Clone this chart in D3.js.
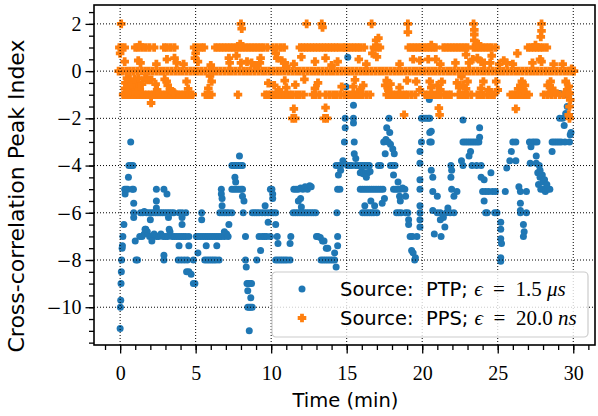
<!DOCTYPE html>
<html>
<head>
<meta charset="utf-8">
<script src="https://cdn.jsdelivr.net/npm/d3@7/dist/d3.min.js"></script>
<style>
  html, body { margin: 0; padding: 0; background: #fff; }
  svg { display: block; }
  .tick-label { font-family: "Liberation Serif", serif; font-size: 20px; fill: #000; }
  .tick-minus { font-family: "DejaVu Serif", serif; font-size: 18px; }
  .x-label { font-family: "DejaVu Sans", sans-serif; font-size: 19.5px; fill: #000; }
  .y-label { font-family: "DejaVu Sans", sans-serif; font-size: 22px; fill: #000; }
  .legend-text { font-family: "DejaVu Sans", sans-serif; font-size: 19.5px; white-space: pre; }
  .math { font-family: "Liberation Serif", serif; font-size: 21px; }
</style>
</head>
<body>
<svg id="chart" width="598" height="416"></svg>
<script>
// axis ticks
const xTicks = [0, 5, 10, 15, 20, 25, 30]
const yTicks = [-10, -8, -6, -4, -2, 0, 2]

// PTP source, [time (min), peak index]
const ptpFirst = [
  [0.00,-10.9],[0.02,-10.0],[0.04,-9.7],[0.06,-9.0],[0.08,-8.5],[0.1,-8.0],[0.13,-7.5],[0.15,-7.4],
  [0.18,-7.0],[0.25,-6.5],[0.3,-5.0],[0.33,-5.2],[0.4,-5.0],[0.5,-5.0],[0.55,-4.5],[0.58,-4.0],
  [0.7,-3.0],[0.72,-4.0],[0.85,-4.0],[0.8,-5.0],[0.88,-5.0],[0.9,-5.6],[0.9,-6.0],[0.9,-6.2],
  [1.0,-7.2],[1.05,-8.0],[1.15,-8.0],
  [1.35,-6.0],[1.5,-6.0],[1.6,-5.95],[1.75,-6.0],[1.9,-6.0],[2.05,-6.0],[2.2,-6.0],[2.35,-6.0],
  [2.5,-6.0],[2.65,-6.0],[2.8,-6.0],[2.95,-6.0],[3.1,-6.0],[3.25,-6.0],[3.4,-6.0],[3.55,-6.0],
  [3.9,-6.0],[4.1,-6.0],[4.35,-6.0],
  [1.3,-7.0],[1.45,-7.0],[1.6,-6.9],[1.7,-6.7],[1.8,-6.8],[1.95,-7.0],[2.1,-7.0],[2.25,-6.9],
  [2.4,-7.0],[2.55,-7.0],[2.7,-6.9],[2.85,-7.0],[3.0,-7.0],[3.15,-7.0],[3.3,-6.8],[3.45,-7.0],
  [3.6,-7.0],[3.75,-7.0],[3.9,-7.0],[4.05,-7.0],[4.2,-7.0],[4.35,-7.0],[4.55,-7.0],
  [1.65,-6.7],[2.0,-6.3],[2.4,-5.8],[2.4,-5.5],[2.4,-5.0],[2.9,-5.0],[3.1,-5.2],[2.1,-7.2],
  [2.9,-7.8],[2.9,-8.0],[3.2,-6.2],[3.25,-6.7],[3.85,-8.0],[4.05,-8.0],[4.25,-8.0],[4.45,-8.0],
  [4.85,-8.0],[3.9,-7.4],[4.1,-6.5],[4.1,-6.2],[4.4,-8.5],[4.55,-8.5],[4.7,-8.6],[4.85,-9.0],
  [4.95,-9.0],[4.55,-7.4],
  [5.05,-7.0],[5.2,-7.0],[5.35,-7.0],[5.5,-7.0],[5.65,-7.0],[5.8,-7.0],[5.95,-7.0],[6.1,-7.0],
  [6.25,-7.0],[6.4,-7.0],[6.55,-7.0],[6.7,-7.0],[6.9,-7.0],[7.05,-6.9],
  [5.15,-7.7],[5.4,-6.3],[5.4,-6.0],[5.7,-7.4],[6.4,-7.4],[5.6,-8.0],[5.75,-8.0],[5.9,-8.0],
  [6.05,-8.0],[6.2,-8.0],[6.35,-8.0],[6.55,-8.0],
  [6.7,-5.0],[6.7,-5.2],[6.75,-5.4],[6.75,-5.7],[6.75,-6.0],[6.6,-6.0],[6.9,-6.0],[7.05,-6.0],
  [7.2,-6.0],[7.4,-6.0],[6.9,-6.8],[7.2,-6.5],[7.15,-7.0],
  [7.4,-4.0],[7.55,-4.0],[7.7,-4.0],[7.85,-4.0],[8.0,-4.0],[8.1,-4.0],[7.6,-4.5],[7.65,-4.7],
  [7.9,-3.6],[7.4,-5.0],[7.55,-5.0],[7.7,-5.0],[7.85,-5.0],[8.0,-5.0],[8.1,-5.0],[8.1,-5.3],
  [8.2,-5.5],[8.15,-6.0],[8.3,-7.0],[8.3,-8.0],[8.35,-8.3],
  [8.4,-9.0],[8.5,-9.0],[8.6,-9.0],[8.7,-9.0],[8.45,-9.3],[8.65,-9.6],[8.45,-10.0],[8.55,-10.0],
  [8.65,-10.0],[8.75,-10.0],[8.55,-11.0],
  [8.75,-6.0],[8.9,-6.0],[9.05,-6.0],[9.2,-6.0],[9.4,-6.0],[9.6,-6.0],[9.2,-7.0],[9.4,-7.0],
  [9.55,-7.0],[9.7,-7.0],[9.3,-7.6],[9.05,-8.0],[9.6,-5.7],[9.8,-6.4],[9.8,-6.0],[9.95,-7.0]
]

const ptpMiddle = [
  [9.95,-5.0],[10.05,-5.0],[10.1,-5.2],[10.1,-5.4],[10.0,-6.0],[10.15,-6.0],[10.3,-6.0],[10.3,-6.5],
  [10.4,-7.0],[10.45,-7.3],
  [10.3,-8.0],[10.45,-8.0],[10.6,-8.0],[10.75,-8.0],[10.9,-8.0],[11.05,-8.0],[11.25,-8.0],
  [11.3,-7.0],[11.25,-7.3],
  [11.5,-5.0],[11.65,-5.0],[11.8,-5.0],[11.95,-4.95],[12.1,-5.0],[12.25,-4.9],[12.4,-5.0],
  [12.55,-4.85],[12.65,-4.9],[11.8,-5.5],[12.0,-5.75],[11.95,-5.4],
  [11.45,-6.0],[11.6,-6.0],[11.75,-6.0],[11.9,-6.0],[12.05,-6.0],[12.2,-6.0],[12.35,-6.0],
  [12.5,-6.0],[12.65,-6.0],[12.8,-6.0],[12.95,-6.0],
  [13.0,-7.0],[13.1,-7.0],[13.25,-7.05],[13.4,-7.2],[13.5,-7.2],[13.65,-7.5],[13.75,-7.5],
  [13.3,-8.0],[13.45,-8.0],[13.6,-8.0],[13.75,-8.0],[13.9,-8.0],[14.05,-8.0],[14.2,-8.0],
  [14.3,-8.3],[14.2,-7.7],
  [14.4,-7.4],[14.4,-7.0],[14.35,-6.0],[14.4,-5.0],[14.45,-4.4],[14.3,-4.0],[14.45,-4.0],
  [14.6,-4.0],[14.75,-3.8],[14.85,-3.0],[14.9,-2.4],[14.9,-2.0],[14.95,-0.66],[15.07,0.59],
  [14.55,-5.0],[14.6,-4.2],
  [15.45,-1.45],[15.45,-2.0],[15.45,-2.2],[15.5,-3.0],[15.5,-3.5],[15.6,-3.7],
  [15.05,-4.0],[15.2,-4.0],[15.35,-4.0],[15.6,-4.0],[15.75,-4.0],[15.9,-4.0],[16.05,-4.0],
  [16.2,-4.0],[16.35,-4.0],[16.5,-4.0],[17.1,-4.0],[17.25,-4.0],[17.9,-4.0],[18.05,-4.0],
  [18.2,-4.0],
  [15.9,-4.3],[16.0,-4.25],[16.1,-4.35],[16.25,-4.3],[16.4,-4.3],[16.55,-4.25],[16.3,-4.5],
  [15.9,-5.0],[16.05,-5.0],[16.2,-5.0],[16.35,-5.0],[16.5,-5.0],[16.65,-5.0],[16.8,-5.0],
  [16.95,-5.0],[17.1,-5.0],[17.25,-5.0],[17.4,-5.0],[18.1,-5.0],[18.25,-5.0],[18.4,-5.0],
  [18.55,-5.0],[18.7,-4.95],[18.85,-5.0],
  [16.2,-5.7],[16.85,-5.7],[17.35,-5.6],[16.6,-5.5],[17.5,-5.4],
  [16.05,-6.0],[16.2,-6.0],[16.35,-6.0],[16.5,-6.0],[16.65,-6.0],[16.8,-6.0],[17.0,-6.0],
  [18.3,-6.0],[18.45,-6.0],[18.6,-6.0],[18.9,-6.0],[19.05,-6.0],
  [17.45,-3.0],[17.6,-2.9],[17.75,-3.0],[17.9,-3.1],[18.05,-3.3],[18.15,-3.5],[17.8,-2.0],
  [17.85,-2.6],[17.55,-3.5],[17.65,-2.4],
  [18.1,-4.4],[18.4,-4.7],[18.5,-5.3],[18.9,-5.3],[18.55,-5.5],
  [19.1,-6.3],[19.2,-7.0],[19.35,-7.0],[19.65,-7.0],[19.3,-7.6],[19.4,-7.7],[19.5,-8.0],
  [19.55,-7.9],[19.1,-6.5],
  [19.85,-3.4],[19.85,-3.9],[19.85,-4.6],[19.85,-5.0],[19.85,-5.7],[19.85,-6.0],[19.85,-6.3],
  [19.85,-6.6],[19.95,-2.0],[19.95,-3.0]
]

const ptpLast = [
  [20.1,-2.0],[20.25,-2.0],[20.4,-2.0],[20.5,-2.0],[20.47,-1.2],[20.6,-2.55],[20.6,-3.0],
  [20.5,-3.0],[20.5,-2.6],[20.6,-4.2],[20.7,-4.5],[20.7,-5.1],[21.0,-5.3],[20.7,-5.9],
  [21.0,-6.0],[21.2,-6.0],[21.2,-6.3],[21.4,-6.2],[21.6,-6.0],[21.85,-6.0],[20.8,-6.9],
  [21.25,-7.0],[21.5,-6.6],
  [21.9,-4.0],[21.95,-4.2],[21.9,-4.5],[21.95,-5.0],[22.3,-5.1],[22.1,-5.3],[21.7,-5.8],
  [22.1,-6.0],[22.6,-3.8],[22.7,-4.0],[22.7,-2.07],
  [22.7,-3.0],[22.85,-3.0],[23.0,-3.0],[23.15,-3.0],[23.3,-3.0],[23.45,-3.0],[23.6,-3.0],
  [23.75,-3.0],
  [23.2,-3.4],[23.1,-3.6],[23.3,-4.0],[23.6,-4.0],[23.9,-4.0],[23.8,-2.4],[23.8,-2.8],
  [23.9,-4.5],[24.1,-4.6],[24.0,-5.1],[24.2,-5.1],[24.4,-5.1],[24.65,-5.1],[24.85,-5.1],
  [24.1,-5.5],[24.2,-6.0],[24.3,-6.0],[24.55,-4.3],[24.8,-6.0],[24.95,-6.0],
  [25.2,-6.4],[25.2,-6.7],[25.2,-7.1],[25.25,-7.3],[25.2,-7.9],[25.2,-8.05],
  [25.5,-5.1],[25.6,-4.1],[25.8,-3.8],[26.0,-3.0],[26.2,-3.0],[25.9,-3.4],[26.2,-3.8],
  [26.4,-4.9],[26.5,-5.1],[26.9,-5.1],[26.5,-5.6],[26.5,-5.9],[26.7,-6.5],[26.75,-6.8],
  [26.7,-7.0],[26.5,-6.0],[26.9,-6.0],
  [27.1,-3.0],[27.3,-3.0],[27.45,-3.0],[27.6,-3.0],[27.2,-3.2],[27.55,-3.6],[27.15,-3.9],
  [27.55,-3.9],[27.75,-4.0],
  [27.65,-4.3],[27.8,-4.5],[27.95,-4.4],[28.1,-4.6],[27.7,-4.8],[27.85,-5.0],[28.0,-5.0],
  [28.15,-5.1],[28.3,-5.0],[28.45,-5.0],[28.0,-4.7],[28.25,-4.8],[27.8,-4.2],
  [28.6,-3.0],[28.75,-3.0],[28.9,-3.0],[29.05,-3.0],[29.2,-3.0],[29.45,-3.0],[29.75,-3.0],
  [28.6,-3.4],
  [29.1,-2.0],[29.3,-2.0],[29.5,-1.8],[29.6,-1.5],[29.4,-2.3],[29.8,-2.7],[29.1,-0.95],
  [29.4,-1.0],[29.85,-2.6]
]

// PPS source: times of the samples sitting on the 0, +1 and -1 levels
const ppsZeroTimes = [
  -0.1,0.15,0.4,0.65,0.9,1.15,1.4,1.65,1.9,2.15,2.4,2.65,2.9,3.15,3.4,3.65,3.9,4.15,4.4,4.65,
  4.9,5.15,5.4,5.65,5.9,6.15,6.4,6.65,6.9,7.15,7.4,7.65,7.9,8.15,8.4,8.65,8.9,9.15,9.4,9.65,
  9.9,10.15,10.4,10.65,10.9,11.15,11.4,11.65,11.9,12.15,12.4,12.65,12.9,13.15,13.4,13.65,
  13.9,14.15,14.4,14.65,14.9,15.15,15.4,15.65,15.9,16.15,16.4,16.65,16.9,17.15,17.4,17.65,
  17.9,18.15,18.4,18.65,18.9,19.15,19.4,19.65,19.9,20.15,20.4,20.65,20.9,21.15,21.4,21.65,
  21.9,22.15,22.4,22.65,22.9,23.15,23.4,23.65,23.9,24.15,24.4,24.65,24.9,25.15,25.4,25.65,
  25.9,26.15,26.4,26.65,26.9,27.15,27.4,27.65,27.9,28.15,28.4,28.65,28.9,29.15,29.4,29.65,
  29.9,30.05
]

const ppsPlusOneTimes = [
  -0.05,0.1,0.3,1.0,1.2,1.45,1.7,1.95,2.25,2.9,3.1,3.35,3.6,4.9,5.1,5.35,5.55,
  6.3,6.5,6.7,6.9,7.1,7.3,7.5,7.7,7.9,8.1,8.3,8.5,8.7,8.9,9.1,9.3,9.5,9.75,
  10.1,10.35,10.6,10.85,11.9,12.1,12.3,12.5,12.7,12.9,13.1,13.3,13.5,13.7,13.9,14.1,14.3,
  14.5,14.75,14.9,15.1,15.3,15.5,15.7,15.9,16.15,16.8,17.0,17.2,
  19.1,19.3,19.5,19.7,19.9,20.1,20.3,20.5,20.7,20.9,21.4,21.6,21.8,22.0,22.2,22.4,22.6,
  22.8,23.0,23.4,23.6,23.8,24.0,24.2,24.4,24.6,24.85,27.0,27.2,27.4,27.6,27.8,28.0,28.25
]

const ppsMinusOneTimes = [
  0.2,0.4,0.6,0.8,1.0,1.2,1.4,1.6,1.8,2.0,2.2,2.4,2.6,2.8,3.0,3.2,3.4,3.6,3.8,4.0,4.2,4.4,
  4.6,4.8,5.65,5.85,6.05,7.8,9.6,9.8,10.0,10.2,10.4,10.6,10.8,11.0,11.2,11.4,11.65,11.9,
  12.15,12.75,12.95,13.2,13.6,13.85,14.1,14.35,14.6,14.85,15.05,15.25,15.45,15.65,15.85,
  16.05,16.3,16.55,17.65,17.85,18.05,18.25,18.45,18.65,18.85,19.05,19.3,19.55,20.2,20.4,
  20.6,20.8,21.0,21.2,21.45,21.7,21.9,22.4,22.6,22.8,23.0,23.25,23.65,23.85,24.05,24.3,
  24.55,24.75,25.85,26.05,26.25,26.45,26.65,26.85,27.05,28.05,28.3,28.55,28.8,29.1,29.35,
  29.6
]

// PPS samples off the integer levels, [time (min), peak index]
const ppsOther = [
  [0.07,2],[8.0,2],[8.05,1.8],[12.35,2],[13.35,2],[13.4,1.85],[16.65,2],[19.05,2],[19.05,1.65],
  [23.4,2],[23.45,1.75],[23.45,1.55],[23.45,1.3],[27.9,2],[27.9,1.7],[27.85,1.45],
  [16.95,1.3],[17.1,1.4],[1.3,1.1],[7.95,1.15],[20.6,1.1],[23.7,1.15],[27.5,1.1],
  [0.0,0.75],[0.3,0.4],[1.2,0.45],[1.35,0.35],[3.1,0.5],[3.6,0.55],[3.75,0.35],[5.0,0.75],
  [5.15,0.4],[4.95,0.55],[7.2,0.55],[7.25,0.35],[7.7,0.65],[8.0,0.35],[8.4,0.4],[8.7,0.35],
  [9.3,0.55],[9.25,0.35],[10.3,0.75],[10.4,0.55],[10.7,0.45],[10.9,0.35],[11.0,0.2],[12.0,0.6],
  [12.9,0.4],[13.6,0.55],[14.4,0.4],[15.8,0.5],[16.7,0.75],[17.0,0.6],[19.4,0.5],[19.85,0.45],
  [20.4,0.5],[20.9,0.5],[22.2,0.35],[23.1,0.35],[23.35,0.5],[23.65,0.55],[23.9,0.4],[24.1,0.35],
  [24.6,0.65],[24.5,0.35],[25.4,0.45],[25.6,0.35],[26.3,0.75],[27.3,0.35],[27.8,0.5],[27.9,0.4],
  [2.4,0.3],[4.2,0.3],[6.0,0.25],[9.0,0.25],[11.5,0.3],[14.0,0.25],[16.3,0.3],[18.5,0.3],
  [21.2,0.3],[22.9,0.7],[25.1,0.3],[26.0,0.3],[28.7,0.3],[29.3,0.3],
  [0.32,-0.73],[0.55,-0.5],[0.7,-0.75],[0.85,-0.5],[1.0,-0.7],[1.15,-0.5],[0.45,-0.3],[0.6,-0.9],
  [0.9,-0.85],[1.3,-0.8],[0.35,-0.5],[0.5,-0.85],[0.65,-0.35],[0.75,-0.55],[0.95,-0.35],
  [1.05,-0.9],[1.2,-0.3],[1.45,-0.55],[1.65,-0.3],[1.75,-0.35],[2.35,-0.55],[2.45,-0.8],
  [2.95,-0.35],[3.15,-0.6],[3.45,-0.85],[3.55,-0.9],
  [1.86,-0.37],[2.08,-0.37],[3.08,-0.44],[3.3,-0.8],[4.4,-0.44],
  [4.5,-0.75],[5.95,-0.2],[6.06,-0.44],[5.84,-0.73],[9.81,-0.51],[10.9,-0.4],[11.0,-0.7],
  [11.6,-0.58],[12.9,-0.73],[14.67,-0.66],[15.44,-0.66],[15.55,-0.37],[15.88,-0.8],
  [17.65,-0.4],[17.76,-0.8],[17.55,-0.6],[17.9,-0.55],[19.6,-0.44],[19.85,-0.8],[20.5,-0.44],
  [20.6,-0.7],[21.0,-0.6],[21.3,-0.45],[21.2,-0.8],[22.3,-0.5],[22.45,-0.7],[22.7,-0.6],
  [22.9,-0.75],[22.6,-0.23],[23.0,-0.44],[23.9,-0.73],[24.05,-0.44],[24.4,-0.8],[24.9,-0.44],
  [25.0,-0.8],[26.35,-0.75],[26.5,-0.6],[26.6,-0.44],[26.7,-0.8],[26.8,-0.6],[28.3,-0.6],
  [28.4,-0.94],[28.5,-0.44],[28.6,-0.73],[28.75,-0.85],[29.5,-0.44],[29.6,-0.8],[29.7,-0.94],
  [10.2,-0.6],[10.5,-0.8],[12.2,-0.35],[13.1,-0.5],[16.1,-0.6],[18.5,-0.7],[19.0,-0.4],
  [2.05,-1.35],[11.5,-1.6],[11.6,-2.0],[11.4,-2.0],[13.6,-1.55],[13.7,-2.0],[13.5,-2.0],
  [18.8,-1.85],[21.1,-1.57],[21.15,-1.85],[26.2,-1.6],
  [29.9,0.1],[29.7,-0.65],[29.75,-0.93],[29.8,-1.22],[29.75,-1.5],[29.7,-1.85],[29.75,-2.0]
]

const legendEntries = [
  { source: 'PTP', eps: '1.5', unit: 'μs' },
  { source: 'PPS', eps: '20.0', unit: 'ns' }
]

const blue = '#1f77b4'
const orange = '#ff7f0e'

const width = 598
const height = 416
const margin = { top: 5, right: 3, bottom: 71, left: 94 }

const svg = d3.select('#chart')

const x = d3.scaleLinear().domain([-1.73, 31.44]).range([margin.left, width - margin.right])
const y = d3.scaleLinear().domain([-11.6, 2.8]).range([height - margin.bottom, margin.top])

const ptpData = ptpFirst.concat(ptpMiddle, ptpLast)
const ppsData = ppsZeroTimes.map(t => [t, 0])
  .concat(ppsPlusOneTimes.map(t => [t, 1]))
  .concat(ppsMinusOneTimes.map(t => [t, -1]))
  .concat(ppsOther)

// filled plus, like matplotlib's 'P' marker
const plusPath = (a, b) => 'M' + -b + ',' + -a + 'H' + b + 'V' + -b + 'H' + a + 'V' + b + 'H' + b +
  'V' + a + 'H' + -b + 'V' + b + 'H' + -a + 'V' + -b + 'H' + -b + 'Z'
const plus = plusPath(4.3, 1.9)

const plot = svg.append('g')
plot.append('clipPath').attr('id', 'clip')
  .append('rect')
  .attr('x', margin.left).attr('y', margin.top)
  .attr('width', width - margin.left - margin.right)
  .attr('height', height - margin.top - margin.bottom)

const marks = plot.append('g').attr('clip-path', 'url(#clip)')

marks.selectAll('circle.ptp')
  .data(ptpData)
  .enter().append('circle')
  .attr('class', 'ptp')
  .attr('cx', d => x(d[0]))
  .attr('cy', d => y(d[1]))
  .attr('r', 3.5)
  .attr('fill', blue)

marks.selectAll('path.pps')
  .data(ppsData)
  .enter().append('path')
  .attr('class', 'pps')
  .attr('d', plus)
  .attr('transform', d => 'translate(' + x(d[0]) + ',' + y(d[1]) + ')')
  .attr('fill', orange)

// dotted grid, drawn over the markers like the original
const grid = plot.append('g')
  .attr('stroke', '#000')
  .attr('stroke-width', 1)
  .attr('stroke-dasharray', '1,2')
grid.selectAll('line.vx')
  .data(xTicks)
  .enter().append('line')
  .attr('x1', d => x(d)).attr('x2', d => x(d))
  .attr('y1', y.range()[0]).attr('y2', y.range()[1])
grid.selectAll('line.hy')
  .data(yTicks)
  .enter().append('line')
  .attr('x1', x.range()[0]).attr('x2', x.range()[1])
  .attr('y1', d => y(d)).attr('y2', d => y(d))

// axes
const xAxis = d3.axisBottom(x).tickValues(xTicks).tickSize(8.5).tickPadding(12).tickFormat(d3.format('d'))
const xMinor = d3.axisBottom(x).tickValues(d3.range(-1, 32)).tickSize(5).tickFormat('')
const yAxis = d3.axisLeft(y).tickValues(yTicks).tickSize(8.5).tickPadding(4).tickFormat(d3.format('d'))
const yMinor = d3.axisLeft(y).tickValues(d3.range(-11.5, 2.75, 0.5)).tickSize(5).tickFormat('')

// tick labels with a wide math-style minus sign
const styleTicks = g => {
  g.select('.domain').remove()
  g.selectAll('line').attr('stroke-width', 1.3)
  g.selectAll('text')
    .attr('class', 'tick-label').attr('font-size', null).attr('font-family', null)
    .each(function (d) {
      const t = d3.select(this)
      if (t.text() === '') return
      t.text('')
      if (d < 0) t.append('tspan').attr('class', 'tick-minus').text('\u2212')
      t.append('tspan').text(Math.abs(d))
    })
}

const bottom = height - margin.bottom
for (const ax of [xMinor, xAxis]) {
  svg.append('g')
    .attr('transform', 'translate(0,' + bottom + ')')
    .call(ax)
    .call(styleTicks)
}
for (const ax of [yMinor, yAxis]) {
  svg.append('g')
    .attr('transform', 'translate(' + margin.left + ',0)')
    .call(ax)
    .call(styleTicks)
}

// frame
svg.append('rect')
  .attr('x', margin.left).attr('y', margin.top)
  .attr('width', width - margin.left - margin.right)
  .attr('height', height - margin.top - margin.bottom)
  .attr('fill', 'none')
  .attr('stroke', '#000')
  .attr('stroke-width', 1.6)

// axis labels
svg.append('text')
  .attr('class', 'x-label')
  .attr('x', (x.range()[0] + x.range()[1]) / 2 + 1)
  .attr('y', 407)
  .attr('text-anchor', 'middle')
  .text('Time (min)')

svg.append('text')
  .attr('class', 'y-label')
  .attr('transform', 'translate(24,196) rotate(-90)')
  .attr('text-anchor', 'middle')
  .text('Cross-correlation Peak Index')

// legend
const legend = svg.append('g').attr('transform', 'translate(272,272)')
legend.append('rect')
  .attr('width', 316).attr('height', 65)
  .attr('rx', 4)
  .attr('fill', '#fff').attr('fill-opacity', 0.8)
  .attr('stroke', '#ccc').attr('stroke-width', 1.2)

const rows = legend.selectAll('g.entry')
  .data(legendEntries)
  .enter().append('g')
  .attr('class', 'entry')
  .attr('transform', (d, i) => 'translate(0,' + (17 + i * 29) + ')')

rows.filter((d, i) => i === 0).append('circle')
  .attr('cx', 30).attr('r', 3.5).attr('fill', blue)
rows.filter((d, i) => i === 1).append('path')
  .attr('d', plus).attr('transform', 'translate(30,0)').attr('fill', orange)

const label = rows.append('text')
  .attr('class', 'legend-text')
  .attr('x', 68)
  .attr('y', 7)
label.append('tspan').text(d => 'Source:  ' + d.source + '; ')
label.append('tspan').attr('class', 'math').attr('font-style', 'italic').text('\u03f5')
label.append('tspan').attr('class', 'math').text(d => '\u2002=\u2002' + d.eps + ' ')
label.append('tspan').attr('class', 'math').attr('font-style', 'italic').text(d => d.unit)
</script>
</body>
</html>
